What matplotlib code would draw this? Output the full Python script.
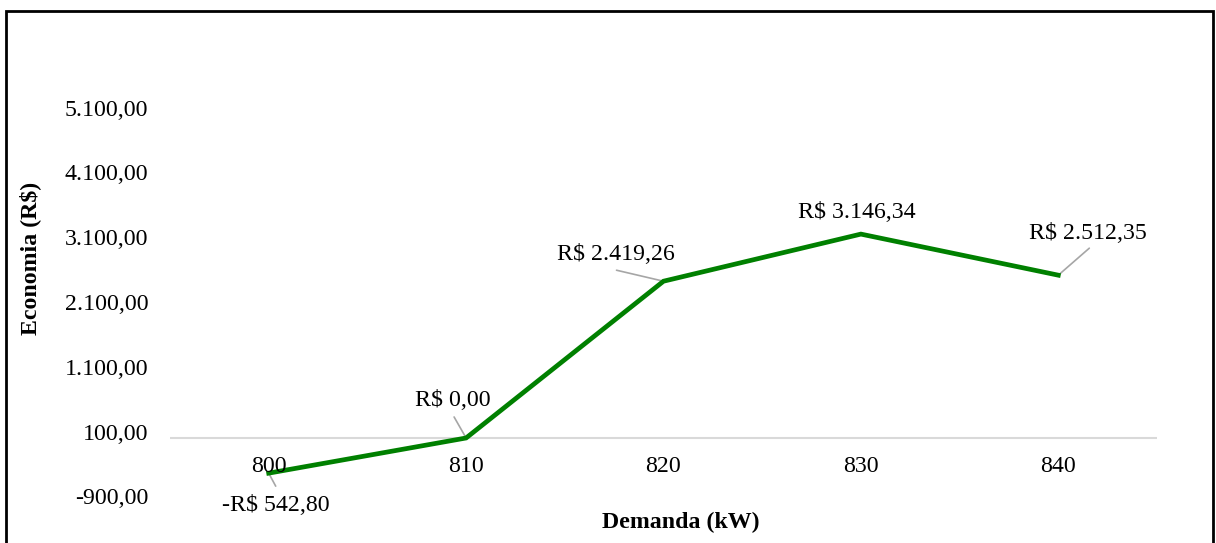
import numpy as np
import matplotlib as mpl
mpl.use('Agg')
import matplotlib.pyplot as plt
from matplotlib.patches import Rectangle
from matplotlib.ticker import FuncFormatter

demanda = ['800', '810', '820', '830', '840']
economia = [-542.80, 0.00, 2419.26, 3146.34, 2512.35]
yticks = [-900, 100, 1100, 2100, 3100, 4100, 5100]

mpl.rcParams['font.family'] = 'Liberation Serif'
mpl.rcParams['font.size'] = 17.2

def brl(v, decimals=2):
    # brazilian number format: 1.234,56
    s = f"{abs(v):,.{decimals}f}".replace(',', 'X').replace('.', ',').replace('X', '.')
    return ('-' if v < 0 else '') + s

W, H = 1216, 543
fig = plt.figure(figsize=(W / 100, H / 100), dpi=100)
ax = fig.add_axes([170 / W, 1 - 496.3 / H, (1157 - 170) / W, (496.3 - 107.5) / H])

x = np.arange(len(demanda))
ax.axhline(0, color='#d9d9d9', lw=1.5, zorder=1)
ax.plot(x, economia, color='#008000', lw=3.4, solid_joinstyle='miter', zorder=3)

ax.set_xlim(-0.5, len(demanda) - 0.5)
ax.set_ylim(-900, 5100)
ax.set_yticks(yticks)
ax.yaxis.set_major_formatter(FuncFormatter(lambda v, p: brl(v)))
ax.tick_params(axis='y', length=0, pad=15.5)
ax.set_xticks([])
for s in ax.spines.values():
    s.set_visible(False)

# category labels sit just under the zero line
for i, lab in enumerate(demanda):
    ax.annotate(lab, xy=(i, 0), xytext=(0, -29), textcoords='offset pixels',
                ha='center', va='center', zorder=4)

# data labels: (text offset, leader start offset) in pixels
label_off = [(7, -32), (-13, 37), (-48, 27), (-4, 22), (30, 42)]
leader_off = [(7, -13), (-12, 21), (-47, 11), None, (31, 27)]
for i, v in enumerate(economia):
    txt = ('-R$ ' if v < 0 else 'R$ ') + brl(abs(v))
    ax.annotate(txt, xy=(i, v), xytext=label_off[i], textcoords='offset pixels',
                ha='center', va='center', zorder=5)
    if leader_off[i] is not None:
        ax.annotate('', xy=(i, v), xytext=leader_off[i], textcoords='offset pixels',
                    arrowprops=dict(arrowstyle='-', color='#a6a6a6', lw=1.2,
                                    shrinkA=0, shrinkB=0), zorder=2)

fig.text(681 / W, 1 - 522 / H, 'Demanda (kW)', ha='center', va='center', fontweight='bold')
fig.text(30 / W, 1 - 258 / H, 'Economia (R$)', ha='center', va='center',
         rotation=90, fontweight='bold')

fig.add_artist(Rectangle((6 / W, -0.02), (1213 - 6) / W, (H - 11) / H + 0.02,
                         transform=fig.transFigure, fill=False, lw=2, ec='black'))

fig.savefig('out.png', dpi=100, facecolor='white')
